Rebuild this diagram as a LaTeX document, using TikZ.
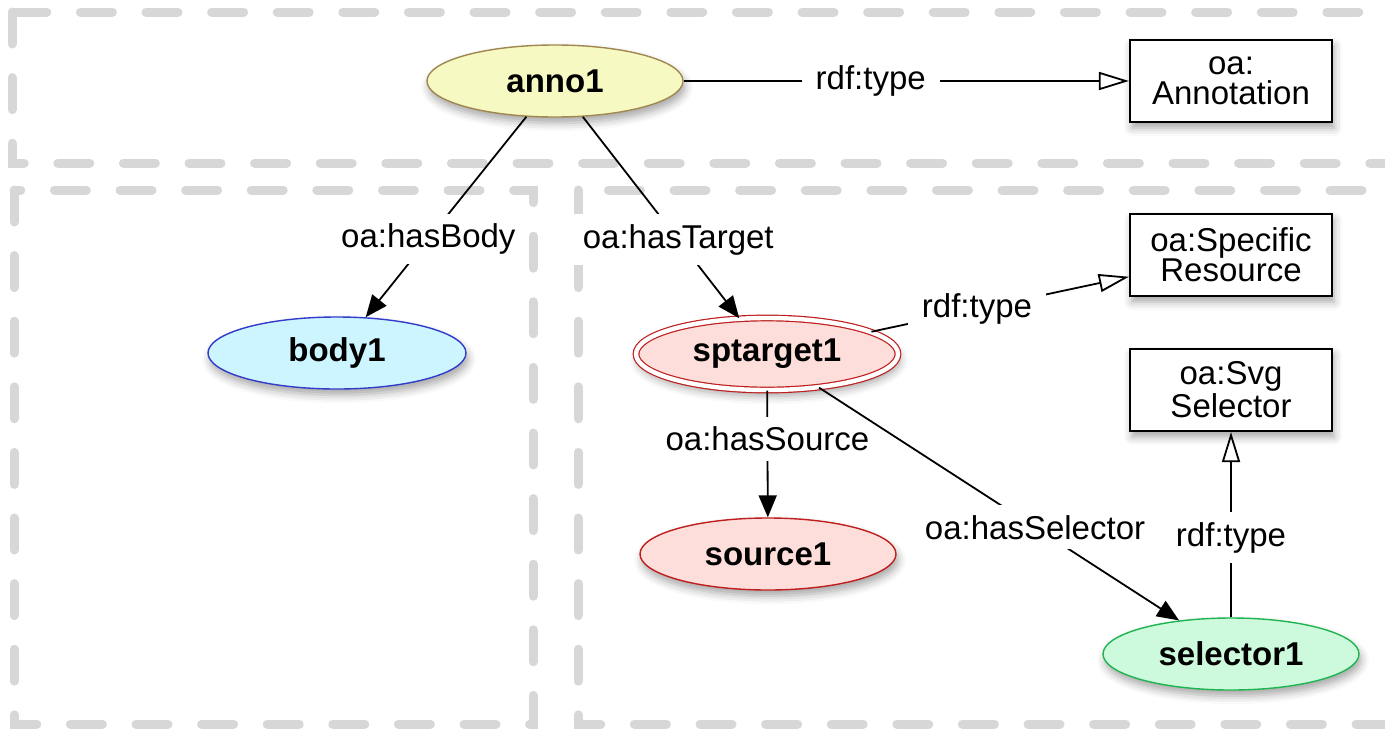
\documentclass[tikz,border=0pt]{standalone}
\usepackage{fontspec}
\setmainfont{Liberation Sans}
\usetikzlibrary{shapes.geometric,arrows.meta,shadows.blur}

\definecolor{zonegray}{RGB}{215,215,215}
\definecolor{annofill}{RGB}{246,250,194}
\definecolor{annoline}{RGB}{160,135,80}
\definecolor{bodyfill}{RGB}{204,245,255}
\definecolor{bodyline}{RGB}{50,60,200}
\definecolor{tgtfill}{RGB}{253,222,218}
\definecolor{tgtline}{RGB}{190,30,30}
\definecolor{selfill}{RGB}{205,250,220}
\definecolor{selline}{RGB}{30,180,80}

\begin{document}
\begin{tikzpicture}[x=0.5pt,y=-0.5pt,font=\fontsize{16.5}{15}\selectfont,
  res/.style={ellipse, inner sep=0pt, minimum width=128pt, minimum height=36pt,
    line width=0.7pt, font=\fontsize{16.5}{15}\selectfont\bfseries,
    blur shadow={shadow xshift=1pt, shadow yshift=-3pt, shadow blur radius=4pt, shadow opacity=35}},
  cls/.style={rectangle, draw=black, fill=white, line width=1.1pt, align=center,
    minimum width=101pt, minimum height=41pt, font=\fontsize{16.5}{15}\selectfont,
    blur shadow={shadow xshift=1pt, shadow yshift=-3pt, shadow blur radius=4pt, shadow opacity=35}},
  lbl/.style={fill=white, inner xsep=7pt, inner ysep=5pt},
  prop/.style={line width=0.9pt, -{Triangle[length=11pt,width=9pt]}},
  isa/.style={line width=0.9pt, -{Triangle[open,length=15pt,width=9pt,line width=0.9pt]}},
  zone/.style={draw=zonegray, line width=4.5pt, line cap=round, dash pattern=on 16pt off 16.8pt}]

  \useasboundingbox (0,0) rectangle (1385,734);
  \clip (0,0) rectangle (1385,734);

  \draw[zone] (12,12) rectangle (1420,163);
  \draw[zone] (14,190) rectangle (533,724);
  \draw[zone] (578,190) rectangle (1420,724);

  \node[res, draw=annoline, fill=annofill] (anno) at (555,81) {anno1};
  \node[res, draw=bodyline, fill=bodyfill, minimum width=129pt] (body) at (337,353) {body1};
  \node[res, draw=tgtline, fill=tgtfill, double=white, double distance=2.2pt,
    line width=0.6pt, minimum width=131pt] (spt) at (767,354) {sptarget1};
  \node[res, draw=tgtline, fill=tgtfill] (src) at (768,554) {source1};
  \node[res, draw=selline, fill=selfill] (sel) at (1231,654) {selector1};

  \node[cls] (tAnno) at (1231,81) {oa:\\Annotation};
  \node[cls] (tSpRes) at (1231,255) {oa:Specific\\Resource};
  \node[cls] (tSvg) at (1231,390) {oa:Svg\\Selector};

  \draw[isa] (anno) -- node[lbl,pos=.42]{rdf:type} (tAnno);
  \draw[prop] (anno) -- node[lbl,pos=.61]{oa:hasBody} (body);
  \draw[prop] (anno) -- node[lbl,pos=.61]{oa:hasTarget} (spt);
  \draw[isa] (spt) -- node[lbl,pos=.41]{rdf:type} (tSpRes);
  \draw[prop] (spt) -- node[lbl,pos=.38]{oa:hasSource} (src);
  \draw[prop] (spt) -- node[lbl,pos=.6]{oa:hasSelector} (sel);
  \draw[isa] (sel) -- node[lbl,pos=.43]{rdf:type} (tSvg);
\end{tikzpicture}
\end{document}
